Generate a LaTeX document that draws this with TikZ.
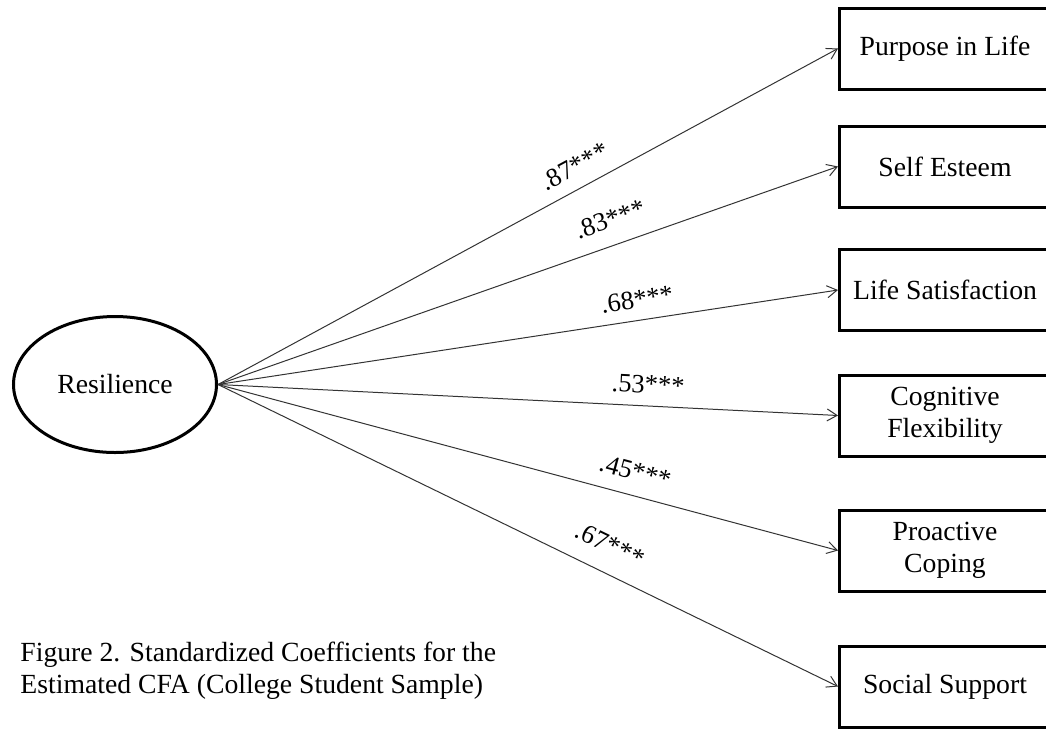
\documentclass[tikz,border=0pt]{standalone}
\usepackage{fontspec}
\setmainfont{Liberation Serif}
\usetikzlibrary{shapes.geometric, arrows.meta, positioning}

\begin{document}
\begin{tikzpicture}
        [
            x=0.5pt, y=-0.5pt,
            every node/.style={font=\fontsize{13.85}{16}\selectfont},
            latent/.style={ellipse, draw, line width=1.5pt, minimum width=101.5pt, minimum height=68pt, inner sep=0pt},
            indicator/.style={rectangle, draw, line width=1.5pt, minimum width=105.5pt, minimum height=40.5pt, align=center, inner sep=0pt},
            loading/.style={draw=black!80, line width=0.5pt, -{Straight Barb[length=5pt,width=6pt]}},
            coef/.style={sloped, anchor=south, font=\fontsize{13.2}{16}\selectfont},
        ]
        \useasboundingbox (0,0) rectangle (1046,730);
        \node[latent] (res) at (115,384.5) {Resilience};
        \node[indicator] (pil) at (945,48.5) {Purpose in Life};
        \node[indicator] (se) at (945,166.5) {Self Esteem};
        \node[indicator] (ls) at (945,290) {Life Satisfaction};
        \node[indicator] (cf) at (945,415.5) {Cognitive\\Flexibility};
        \node[indicator] (pc) at (945,550.5) {Proactive\\Coping};
        \node[indicator] (ss) at (945,686.5) {Social Support};
        \draw[loading] (res.east) -- node[coef, pos=0.592, inner sep=6.2pt] {.87***} (pil.west);
        \draw[loading] (res.east) -- node[coef, pos=0.646, inner sep=8.2pt] {.83***} (se.west);
        \draw[loading] (res.east) -- node[coef, pos=0.681, inner sep=5.8pt] {.68***} (ls.west);
        \draw[loading] (res.east) -- node[coef, pos=0.692, inner sep=6pt] {.53***} (cf.west);
        \draw[loading] (res.east) -- node[coef, pos=0.663, inner sep=7.2pt] {.45***} (pc.west);
        \draw[loading] (res.east) -- node[coef, pos=0.613, inner sep=9.2pt] {.67***} (ss.west);
        \node[anchor=north west, align=left, inner sep=0pt] (cap) at (20,642) {Figure 2. Standardized Coefficients for the\\Estimated CFA (College Student Sample)};
\end{tikzpicture}
\end{document}
